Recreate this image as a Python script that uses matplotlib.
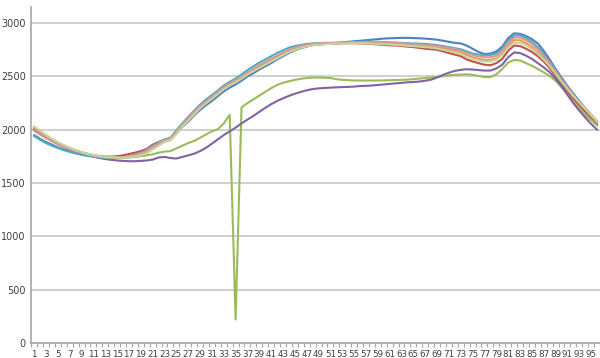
import matplotlib.pyplot as plt

# Consts
BLUE = '#4F81BD'
RED = '#C0504D'
GREEN = '#9BBB59'
PURPLE = '#8064A2'
AQUA = '#4BACC6'
ORANGE = '#F79646'
PINK = '#D99795'
LIGHT_GREEN = '#C3D69B'
GRID = '#C8C8C8'
AXIS = '#A6A6A6'

categories = list(range(1, 97))

blue = [1950, 1915, 1885, 1860, 1835, 1815, 1798, 1782, 1770, 1758,
        1750, 1742, 1738, 1736, 1736, 1740, 1748, 1760, 1778, 1800,
        1835, 1860, 1890, 1905, 1965, 2025, 2075, 2135, 2185, 2230,
        2270, 2315, 2360, 2395, 2425, 2460, 2500, 2530, 2565, 2595,
        2625, 2660, 2690, 2720, 2745, 2765, 2780, 2795, 2800, 2805,
        2810, 2815, 2820, 2825, 2830, 2835, 2840, 2845, 2850, 2855,
        2858, 2860, 2862, 2862, 2860, 2858, 2855, 2850, 2845, 2835,
        2825, 2815, 2810, 2790, 2760, 2730, 2710, 2715, 2735, 2780,
        2860, 2905, 2900, 2880, 2850, 2810, 2740, 2660, 2570, 2490,
        2410, 2340, 2270, 2200, 2140, 2080]

red = [2010, 1975, 1940, 1905, 1875, 1850, 1827, 1806, 1788, 1772,
       1760, 1752, 1748, 1748, 1752, 1760, 1772, 1785, 1800, 1820,
       1860, 1885, 1905, 1920, 1975, 2040, 2095, 2155, 2210, 2255,
       2295, 2340, 2385, 2420, 2450, 2485, 2525, 2555, 2585, 2615,
       2645, 2675, 2705, 2735, 2755, 2770, 2785, 2795, 2800, 2805,
       2808, 2808, 2810, 2812, 2812, 2810, 2808, 2805, 2800, 2795,
       2792, 2790, 2785, 2780, 2775, 2768, 2760, 2755, 2750, 2735,
       2720, 2705, 2690, 2660, 2640, 2625, 2610, 2605, 2625, 2665,
       2740, 2790, 2785, 2760, 2730, 2690, 2640, 2580, 2505, 2430,
       2360, 2290, 2230, 2170, 2110, 2050]

green = [2025, 1985, 1948, 1912, 1880, 1852, 1826, 1805, 1788, 1772,
         1760, 1750, 1744, 1740, 1738, 1738, 1740, 1745, 1752, 1760,
         1770, 1785, 1795, 1800, 1825, 1850, 1875, 1895, 1925, 1955,
         1985, 2005, 2060, 2140, 220, 2210, 2250, 2285, 2320, 2355,
         2390, 2420, 2440, 2455, 2468, 2478, 2485, 2490, 2490, 2488,
         2485, 2475, 2468, 2465, 2462, 2462, 2462, 2462, 2462, 2463,
         2465, 2466, 2468, 2470, 2475, 2480, 2485, 2490, 2495, 2502,
         2510, 2515, 2518, 2520, 2515, 2505, 2495, 2495, 2520, 2570,
         2630, 2655, 2650, 2625, 2600, 2570, 2540, 2505, 2460, 2400,
         2330, 2260, 2200, 2140, 2090, 2040]

purple = [2000, 1960, 1925, 1895, 1865, 1840, 1815, 1795, 1778, 1762,
          1748, 1735, 1725, 1718, 1712, 1708, 1705, 1705, 1708, 1712,
          1720, 1740, 1745, 1735, 1730, 1745, 1760, 1775, 1800, 1830,
          1870, 1910, 1950, 1985, 2020, 2060, 2095, 2130, 2168, 2205,
          2240, 2270, 2295, 2318, 2338, 2355, 2370, 2382, 2388, 2392,
          2395, 2398, 2400, 2402, 2405, 2410, 2412, 2415, 2420, 2425,
          2430, 2435, 2440, 2445, 2448, 2452, 2460, 2470, 2490, 2515,
          2535, 2552, 2562, 2568, 2565, 2560, 2555, 2555, 2575, 2610,
          2680, 2725, 2720, 2695, 2665, 2625, 2585, 2540, 2480, 2410,
          2330, 2250, 2180, 2115, 2055, 2000]

aqua = [1940, 1905, 1875, 1850, 1828, 1808, 1792, 1778, 1765, 1755,
        1747, 1740, 1736, 1735, 1735, 1740, 1750, 1765, 1785, 1810,
        1850, 1880, 1910, 1925, 1995, 2060, 2120, 2180, 2235, 2285,
        2325, 2370, 2415, 2450, 2480, 2520, 2560, 2595, 2630, 2660,
        2690, 2720, 2745, 2770, 2785, 2795, 2805, 2810, 2812, 2815,
        2815, 2815, 2815, 2818, 2820, 2822, 2825, 2825, 2825, 2823,
        2820, 2818, 2815, 2812, 2810, 2808, 2805, 2800, 2795, 2785,
        2775, 2765, 2755, 2735, 2715, 2705, 2700, 2700, 2715, 2760,
        2840, 2885, 2885, 2860, 2825, 2775, 2710, 2640, 2555, 2475,
        2400, 2330, 2265, 2200, 2140, 2080]

orange = [2020, 1980, 1945, 1910, 1880, 1853, 1828, 1808, 1790, 1775,
          1762, 1752, 1745, 1742, 1740, 1742, 1748, 1758, 1772, 1792,
          1830, 1862, 1895, 1912, 1975, 2040, 2098, 2158, 2212, 2258,
          2300, 2345, 2390, 2425, 2455, 2490, 2530, 2560, 2592, 2622,
          2652, 2682, 2712, 2740, 2760, 2775, 2790, 2800, 2805, 2808,
          2810, 2812, 2815, 2818, 2820, 2820, 2820, 2818, 2815, 2812,
          2810, 2808, 2805, 2800, 2795, 2790, 2785, 2780, 2775, 2765,
          2752, 2740, 2725, 2700, 2680, 2665, 2655, 2655, 2670, 2715,
          2790, 2840, 2840, 2812, 2775, 2725, 2668, 2605, 2530, 2455,
          2385, 2315, 2255, 2195, 2135, 2075]

pink = [1990, 1955, 1922, 1892, 1864, 1840, 1818, 1799, 1783, 1768,
        1756, 1747, 1741, 1738, 1738, 1742, 1750, 1762, 1780, 1802,
        1842, 1872, 1902, 1918, 1985, 2050, 2108, 2168, 2222, 2270,
        2312, 2356, 2400, 2435, 2465, 2500, 2540, 2572, 2605, 2636,
        2665, 2695, 2722, 2750, 2770, 2784, 2796, 2805, 2810, 2812,
        2814, 2815, 2816, 2818, 2820, 2822, 2824, 2824, 2822, 2820,
        2818, 2815, 2812, 2808, 2804, 2800, 2796, 2792, 2786, 2776,
        2765, 2755, 2742, 2720, 2700, 2688, 2680, 2680, 2695, 2740,
        2815, 2865, 2865, 2840, 2805, 2755, 2692, 2625, 2545, 2468,
        2395, 2325, 2262, 2198, 2138, 2078]

light_green = [2030, 1990, 1950, 1915, 1883, 1856, 1830, 1808, 1790, 1774,
               1762, 1752, 1745, 1741, 1738, 1738, 1742, 1750, 1762, 1780,
               1815, 1850, 1885, 1902, 1960, 2025, 2085, 2145, 2200, 2248,
               2290, 2335, 2380, 2415, 2445, 2480, 2518, 2550, 2580, 2610,
               2640, 2670, 2700, 2728, 2750, 2768, 2782, 2792, 2798, 2802,
               2805, 2808, 2810, 2812, 2812, 2812, 2810, 2808, 2805, 2802,
               2800, 2796, 2792, 2788, 2784, 2780, 2775, 2770, 2762, 2750,
               2738, 2725, 2710, 2685, 2665, 2650, 2640, 2640, 2658, 2700,
               2770, 2815, 2815, 2792, 2758, 2712, 2658, 2598, 2525, 2452,
               2382, 2315, 2255, 2195, 2138, 2080]

series = [(blue, BLUE), (red, RED), (green, GREEN), (purple, PURPLE),
          (aqua, AQUA), (orange, ORANGE), (pink, PINK), (light_green, LIGHT_GREEN)]

yticks = [0, 500, 1000, 1500, 2000, 2500, 3000]
xticks = list(range(1, 96, 2))


def showChart():
	fig = plt.figure(figsize=(6, 3.58), dpi=100)
	ax = fig.add_axes([0.052, 0.042, 0.948, 0.938])

	for values, color in series:
		ax.plot(categories, values, color=color, linewidth=1.5, solid_joinstyle='round')

	ax.set_xlim(0.5, 96.5)
	ax.set_ylim(0, 3150)
	ax.set_yticks(yticks)
	ax.set_yticklabels([str(v) for v in yticks], fontsize=7, color='#404040')
	ax.set_xticks(xticks)
	ax.set_xticklabels([str(v) for v in xticks], fontsize=6.3, color='#404040')
	ax.set_xticks([c + 0.5 for c in range(0, 97)], minor=True)
	ax.tick_params(axis='x', which='major', length=0, pad=5)
	ax.tick_params(axis='x', which='minor', length=3, color=AXIS, width=0.8)
	ax.tick_params(axis='y', length=0, pad=4)

	ax.grid(axis='y', color=GRID, linewidth=1.2)
	ax.set_axisbelow(True)
	for side in ['top', 'right']:
		ax.spines[side].set_visible(False)
	for side in ['left', 'bottom']:
		ax.spines[side].set_color(AXIS)
		ax.spines[side].set_linewidth(1.2)

	fig.savefig('out.png', dpi=100)


def main() -> None:
	showChart()


if __name__ == '__main__':
	main()
